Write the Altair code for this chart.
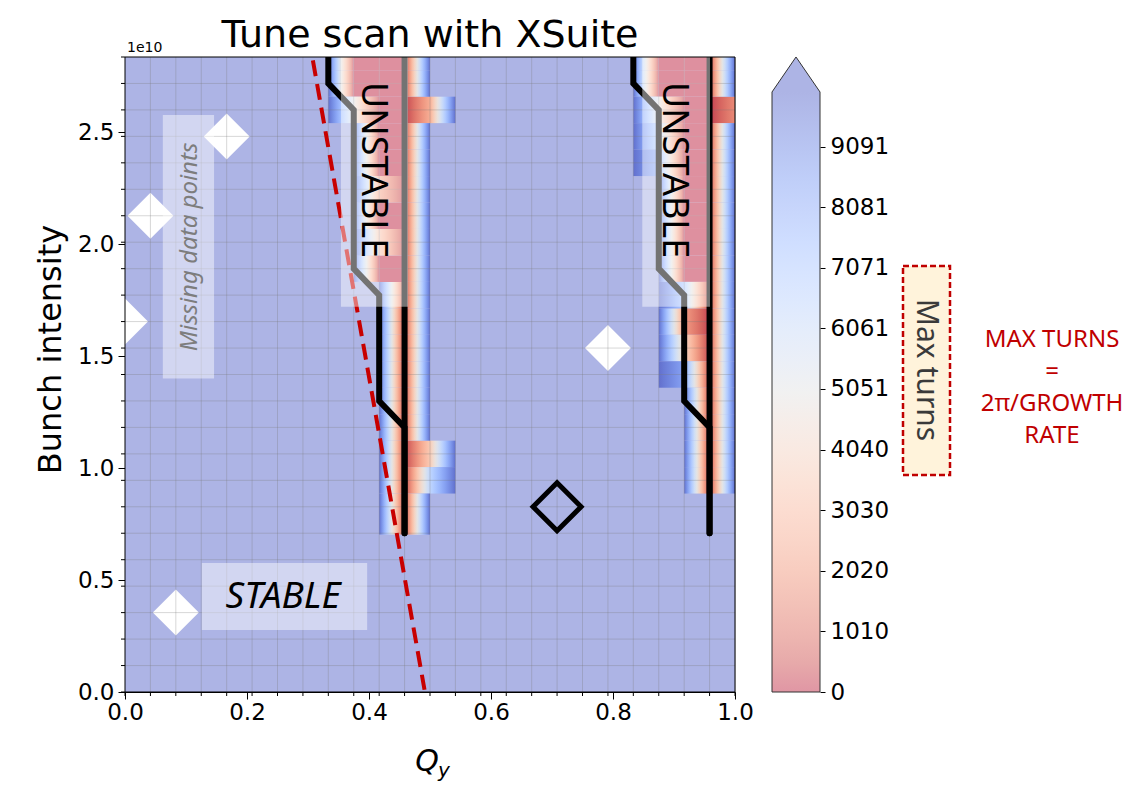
import altair as alt
import pandas as pd

# ----------------------------------------------------------------- data
# scan grid (tune / intensity nodes of the simulation)
qy_nodes = [0.0, 0.0417, 0.0833, 0.125, 0.1667, 0.2083, 0.25, 0.2917, 0.3333,
            0.375, 0.4167, 0.4583, 0.5, 0.5417, 0.5833, 0.625, 0.6667, 0.7083,
            0.75, 0.7917, 0.8333, 0.875, 0.9167, 0.9583, 1.0]
intensity_nodes = [0.0, 0.1181e10, 0.2363e10, 0.3544e10, 0.4725e10, 0.5906e10,
                   0.7088e10, 0.8269e10, 0.9450e10, 1.0631e10, 1.1813e10, 1.2994e10,
                   1.4175e10, 1.5356e10, 1.6538e10, 1.7719e10, 1.8900e10, 2.0081e10,
                   2.1263e10, 2.2444e10, 2.3625e10, 2.4806e10, 2.5988e10, 2.7169e10,
                   2.8350e10]
stable_turns = 10000   # nodes not listed below reached the maximum number of turns

# unstable band near Qy ~ 0.45 (columns = qy node index, rows = intensity node index)
band1_cols = [8, 9, 10, 11, 12, 13]
band1_rows = [24, 23, 22, 21, 20, 19, 18, 17, 16, 15, 14, 13, 12, 11, 10, 9, 8, 7, 6]
band1_turns = [
    [10000, 0, 0, 0, 10000, 10000],
    [10000, 0, 0, 0, 10000, 10000],
    [10000, 5000, 0, 0, 2500, 10000],
    [10000, 10000, 0, 0, 10000, 10000],
    [10000, 10000, 0, 0, 10000, 10000],
    [10000, 10000, 2500, 0, 10000, 10000],
    [10000, 10000, 0, 0, 10000, 10000],
    [10000, 10000, 3500, 0, 10000, 10000],
    [10000, 10000, 0, 0, 10000, 10000],
    [10000, 10000, 10000, 0, 10000, 10000],
    [10000, 10000, 10000, 0, 10000, 10000],
    [10000, 10000, 10000, 0, 10000, 10000],
    [10000, 10000, 10000, 0, 10000, 10000],
    [10000, 10000, 10000, 0, 10000, 10000],
    [10000, 10000, 10000, 0, 10000, 10000],
    [10000, 10000, 10000, 0, 3500, 10000],
    [10000, 10000, 10000, 0, 6500, 10000],
    [10000, 10000, 10000, 0, 10000, 10000],
    [10000, 10000, 10000, 0, 10000, 10000],
]
band1_floor = 5.95      # lowest extent of the band, in intensity-node units
# unstable band near Qy ~ 0.95
band2_cols = [20, 21, 22, 23, 24]
band2_rows = [24, 23, 22, 21, 20, 19, 18, 17, 16, 15, 14, 13, 12, 11, 10, 9, 8]
band2_turns = [
    [10000, 0, 0, 0, 10000],
    [10000, 0, 0, 0, 10000],
    [10000, 5000, 0, 0, 1500],
    [10000, 6500, 0, 0, 10000],
    [10000, 8000, 0, 0, 10000],
    [10000, 10000, 0, 0, 10000],
    [10000, 10000, 0, 0, 10000],
    [10000, 10000, 0, 0, 10000],
    [10000, 10000, 0, 0, 10000],
    [10000, 10000, 7000, 0, 10000],
    [10000, 10000, 2000, 0, 10000],
    [10000, 10000, 4000, 0, 10000],
    [10000, 10000, 8500, 0, 10000],
    [10000, 10000, 10000, 0, 10000],
    [10000, 10000, 10000, 0, 10000],
    [10000, 10000, 10000, 0, 10000],
    [10000, 10000, 10000, 0, 10000],
]
band2_floor = 7.15

# missing data points
missing_qy = [0.1667, 0.0417, 0.0, 0.0833, 0.7917]
missing_intensity = [2.4806e10, 2.1263e10, 1.6538e10, 0.3544e10, 1.5356e10]

# working point
wp_qy = [0.7083]
wp_intensity = [0.8269e10]

# stability threshold (dashed red)
threshold_qy = [0.308, 0.491]
threshold_intensity = [2.82e10, 0.01e10]

# hand-drawn unstable-region boundaries
edge1_qy = [0.3333, 0.3333, 0.375, 0.375, 0.4167, 0.4167, 0.4583, 0.4583]
edge1_int = [2.835e10, 2.7169e10, 2.5988e10, 1.8900e10, 1.7719e10, 1.2994e10, 1.1813e10, 0.7088e10]
res1_qy = [0.4583, 0.4583]
res1_int = [2.835e10, 0.7088e10]
edge2_qy = [0.8333, 0.8333, 0.875, 0.875, 0.9167, 0.9167, 0.9583, 0.9583]
edge2_int = [2.835e10, 2.7169e10, 2.5988e10, 1.8900e10, 1.7719e10, 1.2994e10, 1.1813e10, 0.7088e10]
res2_qy = [0.9583, 0.9583]
res2_int = [2.835e10, 0.7088e10]

# axes / colorbar ticks
x_ticks = [0.0, 0.2, 0.4, 0.6, 0.8, 1.0]
y_ticks = [0.0, 0.5e10, 1.0e10, 1.5e10, 2.0e10, 2.5e10]
cbar_ticks = [0, 1010, 2020, 3030, 4040, 5051, 6061, 7071, 8081, 9091]
cbar_top = 10000

# annotation boxes (qy0, qy1, int0, int1)
box_qy0 = [0.354, 0.848, 0.062, 0.126]
box_qy1 = [0.464, 0.959, 0.146, 0.397]
box_i0 = [1.72e10, 1.72e10, 1.40e10, 0.277e10]
box_i1 = [2.835e10, 2.835e10, 2.576e10, 0.576e10]

# ----------------------------------------------------------------- styling helpers
COOLWARM = [(59, 76, 192), (68, 90, 204), (77, 104, 215), (87, 117, 225), (98, 130, 234),
            (108, 142, 241), (119, 154, 247), (130, 165, 251), (141, 176, 254), (152, 185, 255),
            (163, 194, 255), (174, 201, 253), (184, 208, 249), (194, 213, 244), (204, 217, 238),
            (213, 219, 230), (221, 221, 221), (229, 216, 209), (236, 211, 197), (241, 204, 185),
            (245, 196, 173), (247, 187, 160), (247, 177, 148), (247, 166, 135), (244, 154, 123),
            (241, 141, 111), (236, 127, 99), (229, 112, 88), (222, 96, 77), (213, 80, 66),
            (203, 62, 56), (192, 40, 47), (180, 4, 38)]


def turns_color(v, alpha):
    t = 1.0 - min(max(v, 0), cbar_top) / cbar_top
    pos = t * (len(COOLWARM) - 1)
    i = min(int(pos), len(COOLWARM) - 2)
    f = pos - i
    c = [COOLWARM[i][n] + (COOLWARM[i + 1][n] - COOLWARM[i][n]) * f for n in range(3)]
    c = [alpha * x + (1 - alpha) * 255 for x in c]
    return "#%02x%02x%02x" % tuple(int(round(x)) for x in c)


FLAT_ALPHA = 0.42
BAND_ALPHA = 0.8
OVER = turns_color(cbar_top, FLAT_ALPHA)
FONT = "DejaVu Sans"
ANN = "Noto Sans"

XS = alt.Scale(domain=[0, 1], nice=False, zero=False)
YS = alt.Scale(domain=[0, 2.835e10], nice=False, zero=False)
XA = alt.Axis(values=x_ticks, format=".1f", title=None, grid=False, labelFont=FONT, labelFontSize=23,
              labelColor="black", tickColor="black", tickSize=7, domainColor="black",
              labelPadding=2, labelFlush=False)
YA = alt.Axis(values=y_ticks, labelExpr="format(datum.value/1e10, '.1f')", title="Bunch intensity",
              titleFont=FONT, titleFontSize=32, titleFontWeight="normal", titleColor="black",
              titlePadding=10, titleY=292, grid=False, labelFont=FONT, labelFontSize=23,
              labelColor="black", tickColor="black", tickSize=7, domainColor="black",
              labelPadding=4, labelFlush=False)


def X(field):
    return alt.X(field, scale=XS, axis=XA)


def Y(field):
    return alt.Y(field, scale=YS, axis=YA)


# ----------------------------------------------------------------- main panel
bg = alt.Chart(pd.DataFrame({"q0": [0.0], "q1": [1.0], "i0": [0.0], "i1": [2.835e10]})).mark_rect(
    fill=OVER).encode(x=X("q0:Q"), x2="q1", y=Y("i0:Q"), y2="i1")

step = intensity_nodes[1] - intensity_nodes[0]
cells = []
for cols, rows, turns, floor in [(band1_cols, band1_rows, band1_turns, band1_floor),
                                 (band2_cols, band2_rows, band2_turns, band2_floor)]:
    for r, row in zip(rows, turns):
        lo = max(intensity_nodes[r] - step / 2, floor * step)
        for a in range(len(cols) - 1):
            va, vb = row[a], row[a + 1]
            if va >= stable_turns and vb >= stable_turns:
                continue
            cells.append({"q0": qy_nodes[cols[a]], "q1": qy_nodes[cols[a + 1]],
                          "i0": lo, "i1": intensity_nodes[r] + step / 2, "va": va, "vb": vb})
cells = pd.DataFrame(cells)

band_layers = []
for (va, vb), grp in cells.groupby(["va", "vb"]):
    stops = [alt.GradientStop(color=turns_color(va + (vb - va) * s / 10, BAND_ALPHA), offset=s / 10)
             for s in range(11)]
    grad = alt.LinearGradient(gradient="linear", stops=stops, x1=0, x2=1, y1=0, y2=0)
    band_layers.append(
        alt.Chart(grp).mark_rect(fill=grad, clip=True).encode(
            x=X("q0:Q"), x2="q1", y=Y("i0:Q"), y2="i1"))

missing = alt.Chart(pd.DataFrame({"q": missing_qy, "i": missing_intensity})).mark_point(
    shape="diamond", filled=True, fill="white", size=2116, opacity=1, strokeWidth=0, clip=True).encode(
    x=X("q:Q"), y=Y("i:Q"))

grid_v = alt.Chart(pd.DataFrame({"q": qy_nodes[1:-1]})).mark_rule(
    color="#7a7a7a", opacity=0.3, strokeWidth=1).encode(x=X("q:Q"))
grid_h = alt.Chart(pd.DataFrame({"i": intensity_nodes[1:-1]})).mark_rule(
    color="#7a7a7a", opacity=0.3, strokeWidth=1).encode(y=Y("i:Q"))

minor_x = alt.Chart(pd.DataFrame({"q": qy_nodes})).mark_rule(color="black", strokeWidth=1).encode(
    x=X("q:Q"), y=alt.value(635), y2=alt.value(639))
minor_y = alt.Chart(pd.DataFrame({"i": intensity_nodes})).mark_rule(color="black", strokeWidth=1).encode(
    y=Y("i:Q"), x=alt.value(-4), x2=alt.value(0))

lines_df = pd.concat([
    pd.DataFrame({"q": edge1_qy, "i": edge1_int, "g": "e1", "o": range(len(edge1_qy))}),
    pd.DataFrame({"q": res1_qy, "i": res1_int, "g": "r1", "o": range(len(res1_qy))}),
    pd.DataFrame({"q": edge2_qy, "i": edge2_int, "g": "e2", "o": range(len(edge2_qy))}),
    pd.DataFrame({"q": res2_qy, "i": res2_int, "g": "r2", "o": range(len(res2_qy))}),
])
bound_lines = alt.Chart(lines_df).mark_line(color="black", strokeWidth=6, strokeCap="round",
                                            clip=True).encode(
    x=X("q:Q"), y=Y("i:Q"), detail="g:N", order="o:Q")

threshold = alt.Chart(pd.DataFrame({"q": threshold_qy, "i": threshold_intensity})).mark_line(
    color="#c80000", strokeWidth=4, strokeDash=[16, 8]).encode(x=X("q:Q"), y=Y("i:Q"))

boxes = alt.Chart(pd.DataFrame({"q0": box_qy0, "q1": box_qy1, "i0": box_i0, "i1": box_i1})).mark_rect(
    fill="white", opacity=0.45, clip=True).encode(x=X("q0:Q"), x2="q1", y=Y("i0:Q"), y2="i1")

unstable_txt = alt.Chart(pd.DataFrame({"q": [0.407, 0.900], "i": [2.33e10, 2.33e10],
                                       "t": ["UNSTABLE", "UNSTABLE"]})).mark_text(
    angle=90, font=ANN, fontSize=36, color="black", align="center", baseline="middle").encode(
    x=X("q:Q"), y=Y("i:Q"), text="t:N")
missing_txt = alt.Chart(pd.DataFrame({"q": [0.1066], "i": [1.987e10], "t": ["Missing data points"]})).mark_text(
    angle=270, font=ANN, fontSize=24, fontStyle="italic", color="#7d7d7d", align="center",
    baseline="middle").encode(x=X("q:Q"), y=Y("i:Q"), text="t:N")
stable_txt = alt.Chart(pd.DataFrame({"q": [0.259], "i": [0.425e10], "t": ["STABLE"]})).mark_text(
    font=ANN, fontSize=37, fontStyle="italic", color="black", align="center", baseline="middle").encode(
    x=X("q:Q"), y=Y("i:Q"), text="t:N")

wp = alt.Chart(pd.DataFrame({"q": wp_qy, "i": wp_intensity})).mark_point(
    shape="diamond", filled=False, stroke="black", strokeWidth=5, size=2304, opacity=1).encode(
    x=X("q:Q"), y=Y("i:Q"))

frame = alt.Chart(pd.DataFrame({"q0": [0.0], "q1": [1.0], "i0": [0.0], "i1": [2.835e10]})).mark_rect(
    filled=False, stroke="black", strokeWidth=1).encode(x=X("q0:Q"), x2="q1", y=Y("i0:Q"), y2="i1")

title_txt = alt.Chart(pd.DataFrame({"t": ["Tune scan with XSuite"]})).mark_text(
    font=FONT, fontSize=38, color="black", align="center", baseline="alphabetic").encode(
    text="t:N", x=alt.value(305), y=alt.value(-10))
offset_txt = alt.Chart(pd.DataFrame({"t": ["1e10"]})).mark_text(
    font=FONT, fontSize=14, color="black", align="left", baseline="alphabetic").encode(
    text="t:N", x=alt.value(2), y=alt.value(-5))
q_txt = alt.Chart(pd.DataFrame({"t": ["Q"]})).mark_text(
    font=FONT, fontSize=30, fontStyle="italic", color="black", align="center", baseline="alphabetic").encode(
    text="t:N", x=alt.value(302), y=alt.value(714))
qsub_txt = alt.Chart(pd.DataFrame({"t": ["y"]})).mark_text(
    font=FONT, fontSize=20, fontStyle="italic", color="black", align="left", baseline="alphabetic").encode(
    text="t:N", x=alt.value(313), y=alt.value(720))

# right-hand annotations
maxbox = alt.Chart(pd.DataFrame({"t": ["Max turns"]})).mark_rect(
    fill="#fff3db", stroke="#c00000", strokeWidth=2.5, strokeDash=[6, 3]).encode(
    x=alt.value(778), x2=alt.value(825), y=alt.value(209), y2=alt.value(418))
maxbox_txt = alt.Chart(pd.DataFrame({"t": ["Max turns"]})).mark_text(
    angle=90, font=ANN, fontSize=30, color="#3a3a3a", align="center", baseline="middle").encode(
    text="t:N", x=alt.value(801), y=alt.value(313))
rate_txt = alt.Chart(pd.DataFrame({"t": ["MAX TURNS\n=\n2π/GROWTH\nRATE"]})).mark_text(
    font=ANN, fontSize=24, color="#c00000", align="center", baseline="middle",
    lineBreak="\n", lineHeight=32).encode(
    text="t:N", x=alt.value(927), y=alt.value(283))

main = alt.layer(bg, *band_layers, missing, grid_v, grid_h, bound_lines, threshold, boxes,
                 unstable_txt, missing_txt, stable_txt, wp, minor_x, minor_y, frame,
                 title_txt, offset_txt, q_txt, qsub_txt, maxbox, maxbox_txt, rate_txt)

# ----------------------------------------------------------------- colorbar
CBS = alt.Scale(domain=[0, 10583], nice=False, zero=False)
CBA = alt.Axis(orient="right", offset=85, values=cbar_ticks, format="d", title=None, grid=False,
               domain=False, labelFont=FONT, labelFontSize=23, labelColor="black", tickColor="black",
               tickSize=5, labelPadding=5, labelFlush=False)
cb_stops = [alt.GradientStop(color=turns_color(cbar_top * s / 20, FLAT_ALPHA), offset=s / 20)
            for s in range(21)]
cb_grad = alt.LinearGradient(gradient="linear", stops=cb_stops, x1=0, x2=0, y1=1, y2=0)
cb_rect = alt.Chart(pd.DataFrame({"lo": [0], "hi": [cbar_top]})).mark_rect(fill=cb_grad).encode(
    x=alt.value(647), x2=alt.value(695), y=alt.Y("lo:Q", scale=CBS, axis=CBA), y2="hi")
cb_arrow = alt.Chart(pd.DataFrame({"lo": [(cbar_top + 10583) / 2]})).mark_point(
    shape="M-1,0.729L0,-0.729L1,0.729", size=2304, filled=True, fill=OVER, stroke="#333333",
    strokeWidth=1, opacity=1).encode(
    x=alt.value(671), y=alt.Y("lo:Q", scale=CBS, axis=CBA))
cb_left = alt.Chart(pd.DataFrame({"lo": [0], "hi": [cbar_top]})).mark_rule(
    color="#333333", strokeWidth=1).encode(
    x=alt.value(647), y=alt.Y("lo:Q", scale=CBS, axis=CBA), y2="hi")
cb_right = alt.Chart(pd.DataFrame({"lo": [0], "hi": [cbar_top]})).mark_rule(
    color="#333333", strokeWidth=1).encode(
    x=alt.value(695), y=alt.Y("lo:Q", scale=CBS, axis=CBA), y2="hi")
cb_bottom = alt.Chart(pd.DataFrame({"lo": [0]})).mark_rule(color="#333333", strokeWidth=1).encode(
    x=alt.value(647), x2=alt.value(695), y=alt.Y("lo:Q", scale=CBS, axis=CBA))

cbar = alt.layer(cb_rect, cb_arrow, cb_left, cb_right, cb_bottom)

chart = alt.layer(main, cbar).resolve_scale(y="independent").properties(
    width=610, height=635,
    autosize=alt.AutoSizeParams(type="none"),
    padding={"left": 125, "top": 57, "right": 392, "bottom": 95},
).configure_view(strokeWidth=0).configure(background="white")

chart.save("out.html", embed_options={"renderer": "svg", "actions": False})
